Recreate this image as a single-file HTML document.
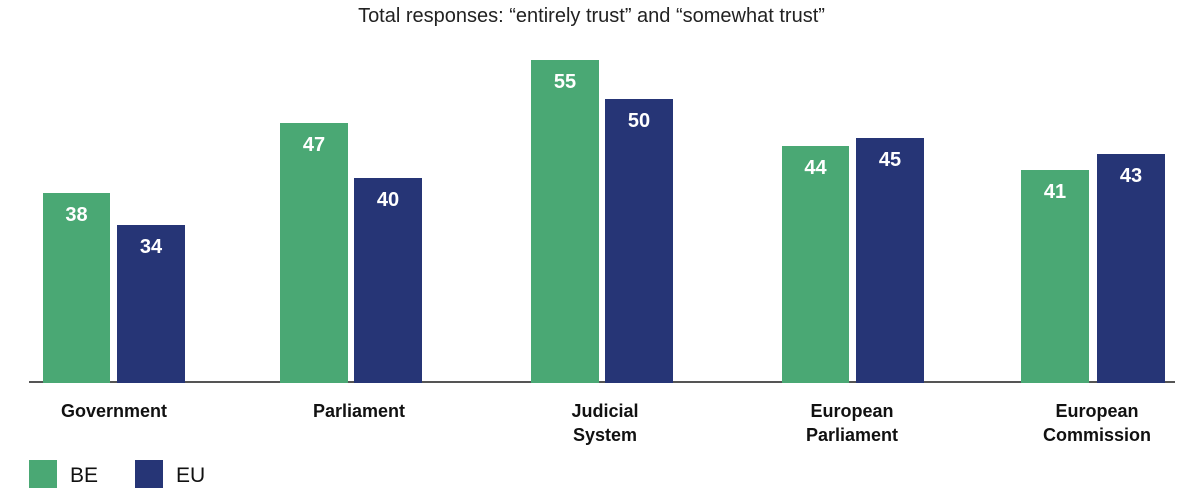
<!DOCTYPE html><html><head><style>
body{margin:0;width:1183px;height:499px;background:#fff;font-family:"Liberation Sans",sans-serif;position:relative;overflow:hidden}
.t{position:absolute;left:0;width:1183px;top:5px;text-align:center;font-size:20px;color:#222}
.b{position:absolute;bottom:116px}
.g{background:#4aa874}.n{background:#263576}
.v{position:absolute;width:100%;text-align:center;top:11px;color:#fff;font-weight:bold;font-size:20px}
.l{position:absolute;top:399px;text-align:center;font-weight:bold;font-size:18px;line-height:24px;color:#111;width:200px}
</style></head><body>
<div class="t">Total responses: “entirely trust” and “somewhat trust”</div>
<div style="position:absolute;left:29px;top:381px;width:1146px;height:2px;background:#555"></div>
<div class="b g" style="left:43px;width:67px;top:193px"><div class="v">38</div></div>
<div class="b n" style="left:117px;width:68px;top:225px"><div class="v">34</div></div>
<div class="b g" style="left:280px;width:68px;top:123px"><div class="v">47</div></div>
<div class="b n" style="left:354px;width:68px;top:178px"><div class="v">40</div></div>
<div class="b g" style="left:531px;width:68px;top:60px"><div class="v">55</div></div>
<div class="b n" style="left:605px;width:68px;top:99px"><div class="v">50</div></div>
<div class="b g" style="left:782px;width:67px;top:146px"><div class="v">44</div></div>
<div class="b n" style="left:856px;width:68px;top:138px"><div class="v">45</div></div>
<div class="b g" style="left:1021px;width:68px;top:170px"><div class="v">41</div></div>
<div class="b n" style="left:1097px;width:68px;top:154px"><div class="v">43</div></div>
<div class="l" style="left:14px">Government</div>
<div class="l" style="left:259px">Parliament</div>
<div class="l" style="left:505px">Judicial<br>System</div>
<div class="l" style="left:752px">European<br>Parliament</div>
<div class="l" style="left:997px">European<br>Commission</div>
<div style="position:absolute;left:29px;top:460px;width:28px;height:28px;background:#4aa874"></div>
<div style="position:absolute;left:70px;top:464px;font-size:21px;color:#111">BE</div>
<div style="position:absolute;left:135px;top:460px;width:28px;height:28px;background:#263576"></div>
<div style="position:absolute;left:176px;top:464px;font-size:21px;color:#111">EU</div>
</body></html>
